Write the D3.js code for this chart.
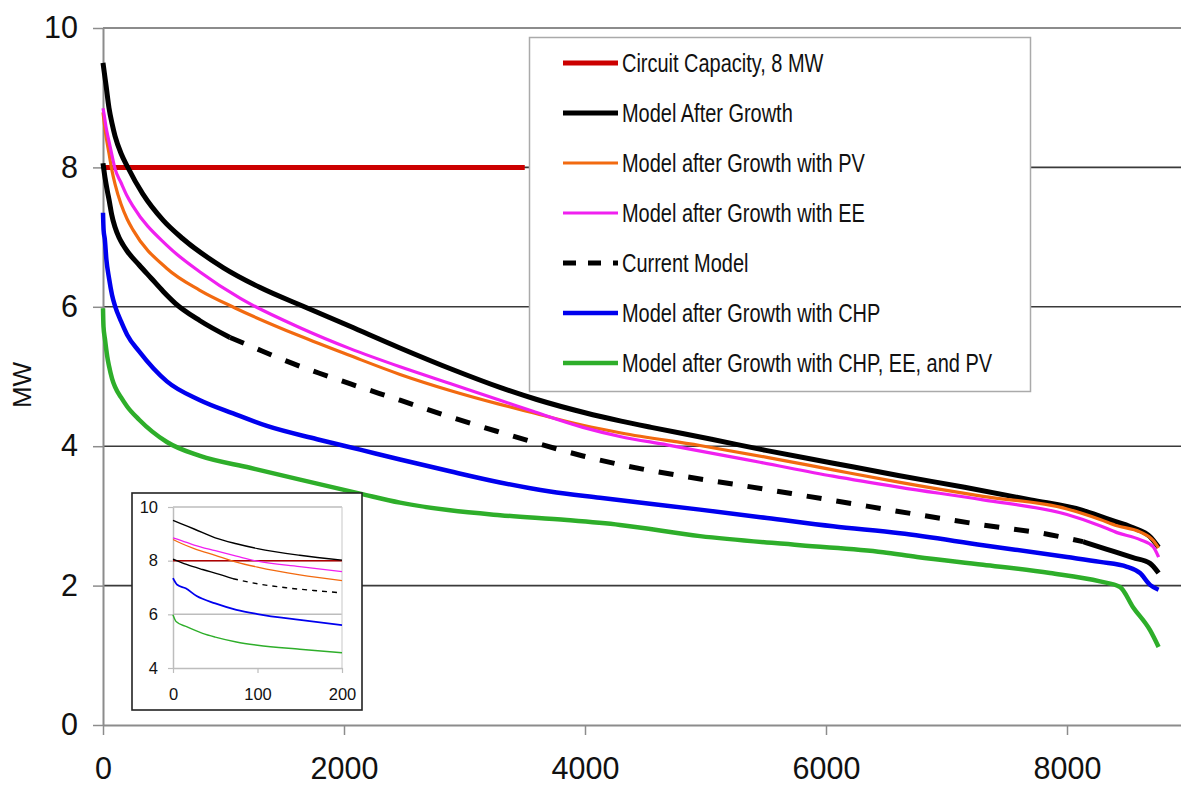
<!DOCTYPE html>
<html>
<head>
<meta charset="utf-8">
<script src="https://cdn.jsdelivr.net/npm/d3@7"></script>
<style>
  body { margin: 0; background: #fff; }
  text { font-family: "Liberation Sans", Arial, Helvetica, sans-serif; fill: #111; }
</style>
</head>
<body>
<div id="viz"></div>
<script>
const width = 1181, height = 785;

// load duration curves: [hour of year (sorted), MW]
const circuitCapacity = [[0, 8], [3500, 8]];
const afterGrowth = [[0,9.5],[10,9.37],[25,9.18],[50,8.85],[75,8.63],[100,8.45],[150,8.2],[200,8.02],[330,7.62],[500,7.24],[660,6.98],[1000,6.56],[1300,6.28],[1700,5.98],[2050,5.72],[2450,5.42],[2900,5.1],[3300,4.84],[3600,4.67],[4000,4.48],[4300,4.36],[4550,4.27],[5050,4.1],[5500,3.94],[6050,3.76],[6600,3.58],[7150,3.41],[7700,3.23],[8130,3.08],[8330,2.96],[8550,2.83],[8690,2.7],[8760,2.55]];
const withPV = [[0,8.79],[10,8.64],[25,8.45],[50,8.2],[75,7.95],[100,7.76],[150,7.47],[200,7.26],[250,7.1],[530,6.55],[800,6.24],[1100,5.98],[1635,5.58],[2050,5.3],[2465,5.03],[2880,4.8],[3295,4.6],[3568,4.48],[3983,4.3],[4300,4.19],[4954,4.01],[5510,3.84],[6058,3.66],[6614,3.48],[7303,3.28],[8000,3.1],[8274,2.95],[8415,2.86],[8606,2.77],[8714,2.65],[8760,2.54]];
const withEE = [[0,8.85],[10,8.75],[25,8.58],[50,8.37],[75,8.17],[100,7.98],[150,7.78],[200,7.59],[250,7.44],[530,6.88],[805,6.5],[1140,6.12],[1635,5.7],[2050,5.4],[2465,5.14],[2880,4.9],[3295,4.66],[3568,4.5],[3983,4.27],[4290,4.14],[4680,4.02],[5452,3.77],[6058,3.57],[6614,3.41],[7303,3.23],[8000,3.02],[8274,2.86],[8415,2.76],[8606,2.66],[8714,2.56],[8760,2.41]];
const currentModel = [[0,8.06],[16,7.86],[35,7.67],[55,7.49],[71,7.33],[100,7.14],[134,6.99],[166,6.89],[200,6.8],[300,6.6],[400,6.41],[500,6.22],[600,6.05],[805,5.8],[1054,5.56],[1220,5.44],[1494,5.24],[1790,5.05],[2060,4.89],[2465,4.66],[2880,4.42],[3295,4.2],[3568,4.06],[3983,3.86],[4280,3.74],[4813,3.57],[5290,3.44],[5784,3.3],[6340,3.14],[6755,3.02],[7303,2.87],[7859,2.73],[8133,2.63],[8332,2.52],[8548,2.4],[8689,2.32],[8760,2.18]];
const withCHP = [[0,7.35],[5,7.1],[15,6.97],[28,6.68],[50,6.41],[75,6.17],[100,6.01],[150,5.79],[200,5.6],[300,5.36],[530,4.93],[805,4.66],[1080,4.47],[1360,4.29],[1776,4.1],[2133,3.95],[2465,3.81],[2880,3.64],[3295,3.48],[3710,3.35],[4124,3.26],[4954,3.09],[5510,2.97],[6058,2.85],[6614,2.75],[7303,2.58],[8000,2.41],[8274,2.34],[8498,2.27],[8606,2.18],[8689,2.01],[8760,1.94]];
const withAll = [[0,5.98],[4,5.72],[16,5.54],[35,5.29],[50,5.15],[75,4.97],[100,4.85],[150,4.7],[200,4.57],[300,4.38],[530,4.06],[805,3.86],[1220,3.69],[1635,3.52],[2133,3.32],[2465,3.19],[2880,3.08],[3295,3.01],[3850,2.94],[4290,2.87],[4954,2.71],[5784,2.58],[6473,2.48],[6755,2.41],[7303,2.3],[7859,2.18],[8274,2.06],[8440,1.98],[8548,1.69],[8689,1.36],[8760,1.12]];

const seriesNames = ["Circuit Capacity, 8 MW", "Model After Growth", "Model after Growth with PV",
  "Model after Growth with EE", "Current Model", "Model after Growth with CHP",
  "Model after Growth with CHP, EE, and PV"];
const xTicks = [0, 2000, 4000, 6000, 8000];
const yTicks = [0, 2, 4, 6, 8, 10];
const insetXTicks = [0, 100, 200];
const insetYTicks = [4, 6, 8, 10];

const series = [
  {data: circuitCapacity, color: "#cc0000", w: 5, iw: 1.5},
  {data: afterGrowth, color: "#000", w: 5, iw: 1.4},
  {data: withPV, color: "#f26a10", w: 3.2, iw: 1.3},
  {data: withEE, color: "#f020f0", w: 3.2, iw: 1.3},
  {data: currentModel, color: "#000", w: 5, iw: 1.4, dashed: true, dashFrom: 1054, dashTo: 8133, insetDashFrom: 71},
  {data: withCHP, color: "#0000ee", w: 4.5, iw: 1.8},
  {data: withAll, color: "#2eae2a", w: 4.5, iw: 1.4}
];
series.forEach((s, i) => s.name = seriesNames[i]);

const svg = d3.select("#viz").append("svg").attr("width", width).attr("height", height);

const x = d3.scaleLinear().domain([0, 9000]).range([103, 103 + 9000 * 0.1205]);
const y = d3.scaleLinear().domain([0, 10]).range([725, 28]);
const fmt = d3.format("d");

const part = (data, a, b) => data.filter(d => d[0] >= a && d[0] <= b);

// gridlines
svg.append("g").selectAll("line").data([2, 4, 6, 8]).enter().append("line")
  .attr("x1", x(0)).attr("x2", width).attr("y1", d => y(d)).attr("y2", d => y(d))
  .attr("stroke", "#3a3a3a").attr("stroke-width", 1.6);
svg.append("line").attr("x1", x(0)).attr("x2", width).attr("y1", y(10)).attr("y2", y(10))
  .attr("stroke", "#8c8c8c").attr("stroke-width", 2);

// axes
const yAxis = svg.append("g").attr("transform", `translate(${x(0)},0)`)
  .call(d3.axisLeft(y).tickValues(yTicks).tickFormat(fmt).tickSize(10).tickSizeOuter(0).tickPadding(15));
const xAxis = svg.append("g").attr("transform", `translate(0,${y(0)})`)
  .call(d3.axisBottom(x).tickValues(xTicks).tickFormat(fmt).tickSize(10).tickSizeOuter(0).tickPadding(22));
[xAxis, yAxis].forEach(g => {
  g.select(".domain").attr("stroke", "#8c8c8c").attr("stroke-width", 2);
  g.selectAll(".tick line").attr("stroke", "#8c8c8c").attr("stroke-width", 1.5);
  g.selectAll(".tick text").attr("font-size", 30.5).attr("fill", "#111")
    .attr("font-family", "'Liberation Sans', Arial, sans-serif");
});

svg.append("text").attr("transform", "translate(31,385) rotate(-90)")
  .attr("text-anchor", "middle").attr("font-size", 26).text("MW");

// lines
const line = d3.line().x(d => x(d[0])).y(d => y(d[1])).curve(d3.curveMonotoneX);
const lines = svg.append("g").attr("fill", "none");
series.forEach(s => {
  if (s.dashed) {
    [[0, s.dashFrom, null], [s.dashFrom, s.dashTo, "15,15"], [s.dashTo, 9000, null]].forEach(([a, b, dash]) => {
      lines.append("path").attr("d", line(part(s.data, a, b)))
        .attr("stroke", s.color).attr("stroke-width", s.w).attr("stroke-dasharray", dash);
    });
  } else {
    lines.append("path").attr("d", line(s.data))
      .attr("stroke", s.color).attr("stroke-width", s.w);
  }
});

// legend
const legend = svg.append("g");
legend.append("rect").attr("x", 529.5).attr("y", 37.5).attr("width", 501).attr("height", 354)
  .attr("fill", "#fff").attr("stroke", "#aaa").attr("stroke-width", 1.5);
const rows = legend.selectAll("g.row").data(series).enter().append("g")
  .attr("transform", (d, i) => `translate(0,${63 + i * 50})`);
rows.append("line").attr("x1", 563).attr("x2", 618).attr("y1", 0).attr("y2", 0)
  .attr("stroke", d => d.color).attr("stroke-width", d => d.w)
  .attr("stroke-dasharray", d => d.dashed ? "13,12" : null);
rows.append("text").attr("transform", "translate(622,9) scale(0.78,1)")
  .attr("font-size", 25.6).text(d => d.name);

// inset: first 200 hours
const xi = d3.scaleLinear().domain([0, 200]).range([173, 342]);
const yi = d3.scaleLinear().domain([4, 10]).range([668, 507]);
const inset = svg.append("g");
inset.append("rect").attr("x", 132).attr("y", 493).attr("width", 230).attr("height", 217)
  .attr("fill", "#fff").attr("stroke", "#222").attr("stroke-width", 1.6);
inset.append("g").selectAll("line").data([6, 8, 10]).enter().append("line")
  .attr("x1", xi(0)).attr("x2", xi(200)).attr("y1", d => yi(d)).attr("y2", d => yi(d))
  .attr("stroke", "#bdbdbd").attr("stroke-width", 1.5);
inset.append("line").attr("x1", xi(200)).attr("x2", xi(200)).attr("y1", yi(10)).attr("y2", yi(4))
  .attr("stroke", "#d0d0d0").attr("stroke-width", 1.2);
const iy = inset.append("g").attr("transform", `translate(${xi(0)},0)`)
  .call(d3.axisLeft(yi).tickValues(insetYTicks).tickFormat(fmt).tickSize(5).tickSizeOuter(0).tickPadding(10));
const ix = inset.append("g").attr("transform", `translate(0,${yi(4)})`)
  .call(d3.axisBottom(xi).tickValues(insetXTicks).tickFormat(fmt).tickSize(5).tickSizeOuter(0).tickPadding(15.5));
[ix, iy].forEach(g => {
  g.select(".domain").attr("stroke", "#bdbdbd").attr("stroke-width", 1.5);
  g.selectAll(".tick line").attr("stroke", "#bdbdbd").attr("stroke-width", 1.2);
  g.selectAll(".tick text").attr("font-size", 16.5).attr("fill", "#111")
    .attr("font-family", "'Liberation Sans', Arial, sans-serif");
});
const iline = d3.line().x(d => xi(d[0])).y(d => yi(d[1])).curve(d3.curveMonotoneX);
const ilines = inset.append("g").attr("fill", "none");
series.forEach(s => {
  const d200 = part(s.data, 0, 200);
  const pts = s === series[0] ? [[0, 8], [200, 8]] : d200;
  if (s.dashed) {
    ilines.append("path").attr("d", iline(part(d200, 0, s.insetDashFrom)))
      .attr("stroke", s.color).attr("stroke-width", s.iw);
    ilines.append("path").attr("d", iline(part(d200, s.insetDashFrom, 200)))
      .attr("stroke", s.color).attr("stroke-width", s.iw).attr("stroke-dasharray", "5,5");
  } else {
    ilines.append("path").attr("d", iline(pts))
      .attr("stroke", s === series[0] ? "#b00000" : s.color).attr("stroke-width", s.iw);
  }
});
</script>
</body>
</html>
